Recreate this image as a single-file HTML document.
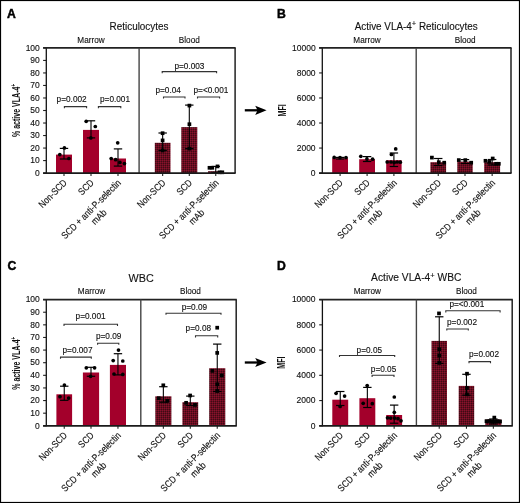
<!DOCTYPE html>
<html><head><meta charset="utf-8"><style>
html,body{margin:0;padding:0;background:#fff;}
body{width:520px;height:503px;overflow:hidden;}
svg{display:block;will-change:transform;font-family:"Liberation Sans", sans-serif;}
text{stroke:#111;stroke-width:0.12px;}
text.L{stroke:#000;stroke-width:0.45px;}
text.Y{stroke:none;}
</style></head><body>
<svg width="520" height="503" viewBox="0 0 520 503">
<defs>
<pattern id="hatch" width="2" height="2" patternUnits="userSpaceOnUse">
<rect width="2" height="2" fill="#660e20"/>
<rect width="1" height="1" fill="#88122c"/>
<rect x="1" y="1" width="1" height="1" fill="#3e0a14"/>
</pattern>
</defs>
<rect x="0" y="0" width="520" height="503" fill="#fff"/>
<rect x="0.5" y="0.5" width="519" height="502" fill="none" stroke="#000" stroke-width="1.2"/>
<text transform="translate(7.0 17.9) scale(1 1)" font-size="12.2" text-anchor="start" font-weight="bold" fill="#000" class="L">A</text>
<g transform="translate(139 29.7) scale(1 1.02)"><text x="0" y="0" font-size="9.9" text-anchor="middle" fill="#111">Reticulocytes</text></g>
<text transform="translate(91 42.6) scale(1 1.14)" font-size="8.2" text-anchor="middle" font-weight="normal" fill="#111" >Marrow</text>
<text transform="translate(189.3 42.6) scale(1 1.14)" font-size="8.2" text-anchor="middle" font-weight="normal" fill="#111" >Blood</text>
<line x1="43.099999999999994" y1="173.1" x2="46.3" y2="173.1" stroke="#222" stroke-width="1.1"/>
<text transform="translate(39.8 175.85) scale(1 1.1)" font-size="8.5" text-anchor="end" font-weight="normal" fill="#111" >0</text>
<line x1="43.099999999999994" y1="160.57999999999998" x2="46.3" y2="160.57999999999998" stroke="#222" stroke-width="1.1"/>
<text transform="translate(39.8 163.32999999999998) scale(1 1.1)" font-size="8.5" text-anchor="end" font-weight="normal" fill="#111" >10</text>
<line x1="43.099999999999994" y1="148.06" x2="46.3" y2="148.06" stroke="#222" stroke-width="1.1"/>
<text transform="translate(39.8 150.81) scale(1 1.1)" font-size="8.5" text-anchor="end" font-weight="normal" fill="#111" >20</text>
<line x1="43.099999999999994" y1="135.54" x2="46.3" y2="135.54" stroke="#222" stroke-width="1.1"/>
<text transform="translate(39.8 138.29) scale(1 1.1)" font-size="8.5" text-anchor="end" font-weight="normal" fill="#111" >30</text>
<line x1="43.099999999999994" y1="123.02" x2="46.3" y2="123.02" stroke="#222" stroke-width="1.1"/>
<text transform="translate(39.8 125.77) scale(1 1.1)" font-size="8.5" text-anchor="end" font-weight="normal" fill="#111" >40</text>
<line x1="43.099999999999994" y1="110.5" x2="46.3" y2="110.5" stroke="#222" stroke-width="1.1"/>
<text transform="translate(39.8 113.25) scale(1 1.1)" font-size="8.5" text-anchor="end" font-weight="normal" fill="#111" >50</text>
<line x1="43.099999999999994" y1="97.98" x2="46.3" y2="97.98" stroke="#222" stroke-width="1.1"/>
<text transform="translate(39.8 100.73) scale(1 1.1)" font-size="8.5" text-anchor="end" font-weight="normal" fill="#111" >60</text>
<line x1="43.099999999999994" y1="85.46000000000001" x2="46.3" y2="85.46000000000001" stroke="#222" stroke-width="1.1"/>
<text transform="translate(39.8 88.21000000000001) scale(1 1.1)" font-size="8.5" text-anchor="end" font-weight="normal" fill="#111" >70</text>
<line x1="43.099999999999994" y1="72.94" x2="46.3" y2="72.94" stroke="#222" stroke-width="1.1"/>
<text transform="translate(39.8 75.69) scale(1 1.1)" font-size="8.5" text-anchor="end" font-weight="normal" fill="#111" >80</text>
<line x1="43.099999999999994" y1="60.42" x2="46.3" y2="60.42" stroke="#222" stroke-width="1.1"/>
<text transform="translate(39.8 63.17) scale(1 1.1)" font-size="8.5" text-anchor="end" font-weight="normal" fill="#111" >90</text>
<line x1="43.099999999999994" y1="47.89999999999999" x2="46.3" y2="47.89999999999999" stroke="#222" stroke-width="1.1"/>
<text transform="translate(39.8 50.64999999999999) scale(1 1.1)" font-size="8.5" text-anchor="end" font-weight="normal" fill="#111" >100</text>
<rect x="56" y="154.6" width="16" height="18.5" fill="#a3002b"/>
<rect x="83" y="129.9" width="16" height="43.19999999999999" fill="#a3002b"/>
<rect x="110" y="158.5" width="16" height="14.599999999999994" fill="#a3002b"/>
<rect x="154.8" y="142.8" width="15.699999999999989" height="30.299999999999983" fill="url(#hatch)"/>
<rect x="181.3" y="127.1" width="16.0" height="46.0" fill="url(#hatch)"/>
<rect x="208" y="171.2" width="15.5" height="1.9000000000000057" fill="url(#hatch)"/>
<line x1="64.0" y1="148.4" x2="64.0" y2="159" stroke="#000" stroke-width="1.1"/>
<line x1="59.8" y1="148.4" x2="68.2" y2="148.4" stroke="#000" stroke-width="1.2"/>
<line x1="59.8" y1="159" x2="68.2" y2="159" stroke="#000" stroke-width="1.2"/>
<circle cx="59.8" cy="154.6" r="1.85" fill="#000"/>
<circle cx="64.4" cy="147.9" r="1.85" fill="#000"/>
<circle cx="68.9" cy="158.5" r="1.85" fill="#000"/>
<line x1="64.0" y1="173.1" x2="64.0" y2="176.1" stroke="#222" stroke-width="1.1"/>
<line x1="91.0" y1="120.8" x2="91.0" y2="137.9" stroke="#000" stroke-width="1.1"/>
<line x1="86.8" y1="120.8" x2="95.2" y2="120.8" stroke="#000" stroke-width="1.2"/>
<line x1="86.8" y1="137.9" x2="95.2" y2="137.9" stroke="#000" stroke-width="1.2"/>
<circle cx="86.2" cy="121.3" r="1.85" fill="#000"/>
<circle cx="95.3" cy="126.5" r="1.85" fill="#000"/>
<circle cx="90.8" cy="137.9" r="1.85" fill="#000"/>
<line x1="91.0" y1="173.1" x2="91.0" y2="176.1" stroke="#222" stroke-width="1.1"/>
<line x1="118.0" y1="148.9" x2="118.0" y2="166.1" stroke="#000" stroke-width="1.1"/>
<line x1="113.8" y1="148.9" x2="122.2" y2="148.9" stroke="#000" stroke-width="1.2"/>
<line x1="113.8" y1="166.1" x2="122.2" y2="166.1" stroke="#000" stroke-width="1.2"/>
<circle cx="117.7" cy="142.8" r="1.85" fill="#000"/>
<circle cx="111.2" cy="158.5" r="1.85" fill="#000"/>
<circle cx="115.6" cy="159.7" r="1.85" fill="#000"/>
<circle cx="119.9" cy="162.4" r="1.85" fill="#000"/>
<circle cx="124.4" cy="163.6" r="1.85" fill="#000"/>
<line x1="118.0" y1="173.1" x2="118.0" y2="176.1" stroke="#222" stroke-width="1.1"/>
<line x1="162.65" y1="133" x2="162.65" y2="150.5" stroke="#000" stroke-width="1.1"/>
<line x1="158.45000000000002" y1="133" x2="166.85" y2="133" stroke="#000" stroke-width="1.2"/>
<line x1="158.45000000000002" y1="150.5" x2="166.85" y2="150.5" stroke="#000" stroke-width="1.2"/>
<rect x="160.75" y="131.35" width="3.7" height="3.7" fill="#000"/>
<rect x="160.75" y="138.55" width="3.7" height="3.7" fill="#000"/>
<rect x="160.75" y="148.65" width="3.7" height="3.7" fill="#000"/>
<line x1="162.65" y1="173.1" x2="162.65" y2="176.1" stroke="#222" stroke-width="1.1"/>
<line x1="189.3" y1="105.1" x2="189.3" y2="148.6" stroke="#000" stroke-width="1.1"/>
<line x1="185.10000000000002" y1="105.1" x2="193.5" y2="105.1" stroke="#000" stroke-width="1.2"/>
<line x1="185.10000000000002" y1="148.6" x2="193.5" y2="148.6" stroke="#000" stroke-width="1.2"/>
<rect x="187.55" y="103.75" width="3.7" height="3.7" fill="#000"/>
<rect x="187.55" y="122.35" width="3.7" height="3.7" fill="#000"/>
<rect x="187.55" y="146.75" width="3.7" height="3.7" fill="#000"/>
<line x1="189.3" y1="173.1" x2="189.3" y2="176.1" stroke="#222" stroke-width="1.1"/>
<line x1="215.75" y1="166.4" x2="215.75" y2="172.5" stroke="#000" stroke-width="1.1"/>
<line x1="211.55" y1="166.4" x2="219.95" y2="166.4" stroke="#000" stroke-width="1.2"/>
<line x1="211.55" y1="172.5" x2="219.95" y2="172.5" stroke="#000" stroke-width="1.2"/>
<rect x="207.65" y="165.95" width="3.7" height="3.7" fill="#000"/>
<rect x="210.45" y="165.95" width="3.7" height="3.7" fill="#000"/>
<rect x="215.65" y="164.55" width="3.7" height="3.7" fill="#000"/>
<rect x="217.65" y="170.45" width="3.7" height="3.7" fill="#000"/>
<rect x="220.45" y="170.45" width="3.7" height="3.7" fill="#000"/>
<line x1="215.75" y1="173.1" x2="215.75" y2="176.1" stroke="#222" stroke-width="1.1"/>
<line x1="46.3" y1="47.9" x2="46.3" y2="173.6" stroke="#111" stroke-width="1.3"/>
<line x1="43.099999999999994" y1="47.9" x2="235.7" y2="47.9" stroke="#222" stroke-width="1.6"/>
<line x1="235.1" y1="47.9" x2="235.1" y2="173.1" stroke="#222" stroke-width="1.5"/>
<line x1="139.1" y1="47.9" x2="139.1" y2="173.1" stroke="#444" stroke-width="1.4"/>
<line x1="43.099999999999994" y1="173.1" x2="235.7" y2="173.1" stroke="#1a1a1a" stroke-width="1.7"/>
<path d="M64.4 108.19999999999999 L64.4 106.6 L86.6 106.6 L86.6 108.19999999999999" fill="none" stroke="#333" stroke-width="1.1"/>
<text transform="translate(56.6 101.7) scale(1 1.13)" font-size="8.25" text-anchor="start" font-weight="normal" fill="#111" >p=0.002</text>
<path d="M98.4 108.19999999999999 L98.4 106.6 L120.8 106.6 L120.8 108.19999999999999" fill="none" stroke="#333" stroke-width="1.1"/>
<text transform="translate(100.0 101.7) scale(1 1.13)" font-size="8.25" text-anchor="start" font-weight="normal" fill="#111" >p=0.001</text>
<path d="M162.2 73.19999999999999 L162.2 71.6 L216.6 71.6 L216.6 73.19999999999999" fill="none" stroke="#333" stroke-width="1.1"/>
<text transform="translate(189.4 69.0) scale(1 1.13)" font-size="8.25" text-anchor="middle" font-weight="normal" fill="#111" >p=0.003</text>
<path d="M163.5 98.6 L163.5 97 L185.0 97 L185.0 98.6" fill="none" stroke="#333" stroke-width="1.1"/>
<text transform="translate(155.4 93.3) scale(1 1.13)" font-size="8.25" text-anchor="start" font-weight="normal" fill="#111" >p=0.04</text>
<path d="M197.5 98.6 L197.5 97 L219.6 97 L219.6 98.6" fill="none" stroke="#333" stroke-width="1.1"/>
<text transform="translate(193.5 93.3) scale(1 1.13)" font-size="8.25" text-anchor="start" font-weight="normal" fill="#111" >p=&lt;0.001</text>
<g transform="translate(67.5,183.4) rotate(-45) scale(1 1.17)"><text x="0" y="0" font-size="8.3" text-anchor="end" fill="#111">Non-SCD</text></g>
<g transform="translate(94.5,183.4) rotate(-45) scale(1 1.17)"><text x="0" y="0" font-size="8.3" text-anchor="end" fill="#111">SCD</text></g>
<g transform="translate(121.5,183.4) rotate(-45) scale(1 1.17)"><text x="0" y="0" font-size="8.3" text-anchor="end" fill="#111">SCD + anti-P-selectin</text><text x="-39.78" y="9.4" font-size="8.3" text-anchor="middle" fill="#111">mAb</text></g>
<g transform="translate(166.15,183.4) rotate(-45) scale(1 1.17)"><text x="0" y="0" font-size="8.3" text-anchor="end" fill="#111">Non-SCD</text></g>
<g transform="translate(192.8,183.4) rotate(-45) scale(1 1.17)"><text x="0" y="0" font-size="8.3" text-anchor="end" fill="#111">SCD</text></g>
<g transform="translate(219.25,183.4) rotate(-45) scale(1 1.17)"><text x="0" y="0" font-size="8.3" text-anchor="end" fill="#111">SCD + anti-P-selectin</text><text x="-39.78" y="9.4" font-size="8.3" text-anchor="middle" fill="#111">mAb</text></g>
<g transform="translate(20.0,110.5) rotate(-90) scale(0.69,1)"><text class="Y" x="0" y="0" font-size="10.2" text-anchor="middle" fill="#111" font-weight="bold">% active VLA-4<tspan font-size="6.5" dy="-4.2">+</tspan></text></g>
<text transform="translate(277.0 18.0) scale(1 1)" font-size="12.2" text-anchor="start" font-weight="bold" fill="#000" class="L">B</text>
<g transform="translate(416.2 29.7) scale(1 1.02)"><text x="0" y="0" font-size="9.9" text-anchor="middle" fill="#111">Active VLA-4<tspan font-size="7.6" dy="-3.7">+</tspan><tspan dy="3.7"> Reticulocytes</tspan></text></g>
<text transform="translate(367 42.5) scale(1 1.14)" font-size="8.2" text-anchor="middle" font-weight="normal" fill="#111" >Marrow</text>
<text transform="translate(465.2 42.5) scale(1 1.14)" font-size="8.2" text-anchor="middle" font-weight="normal" fill="#111" >Blood</text>
<line x1="319.1" y1="173.1" x2="322.3" y2="173.1" stroke="#222" stroke-width="1.1"/>
<text transform="translate(315.6 175.85) scale(1 1.1)" font-size="8.5" text-anchor="end" font-weight="normal" fill="#111" >0</text>
<line x1="319.1" y1="148.06" x2="322.3" y2="148.06" stroke="#222" stroke-width="1.1"/>
<text transform="translate(315.6 150.81) scale(1 1.1)" font-size="8.5" text-anchor="end" font-weight="normal" fill="#111" >2000</text>
<line x1="319.1" y1="123.02" x2="322.3" y2="123.02" stroke="#222" stroke-width="1.1"/>
<text transform="translate(315.6 125.77) scale(1 1.1)" font-size="8.5" text-anchor="end" font-weight="normal" fill="#111" >4000</text>
<line x1="319.1" y1="97.98" x2="322.3" y2="97.98" stroke="#222" stroke-width="1.1"/>
<text transform="translate(315.6 100.73) scale(1 1.1)" font-size="8.5" text-anchor="end" font-weight="normal" fill="#111" >6000</text>
<line x1="319.1" y1="72.94" x2="322.3" y2="72.94" stroke="#222" stroke-width="1.1"/>
<text transform="translate(315.6 75.69) scale(1 1.1)" font-size="8.5" text-anchor="end" font-weight="normal" fill="#111" >8000</text>
<line x1="319.1" y1="47.89999999999999" x2="322.3" y2="47.89999999999999" stroke="#222" stroke-width="1.1"/>
<text transform="translate(315.6 50.64999999999999) scale(1 1.1)" font-size="8.5" text-anchor="end" font-weight="normal" fill="#111" >10000</text>
<rect x="332.2" y="158.2" width="15.800000000000011" height="14.900000000000006" fill="#a3002b"/>
<rect x="359.2" y="159.2" width="15.800000000000011" height="13.900000000000006" fill="#a3002b"/>
<rect x="386.2" y="160.2" width="15.400000000000034" height="12.900000000000006" fill="#a3002b"/>
<rect x="430.4" y="162.2" width="15.700000000000045" height="10.900000000000006" fill="url(#hatch)"/>
<rect x="457.3" y="161.6" width="15.399999999999977" height="11.5" fill="url(#hatch)"/>
<rect x="484.2" y="162.2" width="15.900000000000034" height="10.900000000000006" fill="url(#hatch)"/>
<line x1="340.1" y1="157.4" x2="340.1" y2="159" stroke="#000" stroke-width="1.1"/>
<line x1="335.90000000000003" y1="157.4" x2="344.3" y2="157.4" stroke="#000" stroke-width="1.2"/>
<line x1="335.90000000000003" y1="159" x2="344.3" y2="159" stroke="#000" stroke-width="1.2"/>
<circle cx="334.2" cy="157.4" r="1.85" fill="#000"/>
<circle cx="340" cy="157.6" r="1.85" fill="#000"/>
<circle cx="346" cy="157.6" r="1.85" fill="#000"/>
<line x1="340.1" y1="173.1" x2="340.1" y2="176.1" stroke="#222" stroke-width="1.1"/>
<line x1="367.1" y1="156.6" x2="367.1" y2="161.5" stroke="#000" stroke-width="1.1"/>
<line x1="362.90000000000003" y1="156.6" x2="371.3" y2="156.6" stroke="#000" stroke-width="1.2"/>
<line x1="362.90000000000003" y1="161.5" x2="371.3" y2="161.5" stroke="#000" stroke-width="1.2"/>
<circle cx="360.8" cy="156.3" r="1.85" fill="#000"/>
<circle cx="366.9" cy="158.9" r="1.85" fill="#000"/>
<circle cx="372.6" cy="159.2" r="1.85" fill="#000"/>
<line x1="367.1" y1="173.1" x2="367.1" y2="176.1" stroke="#222" stroke-width="1.1"/>
<line x1="393.9" y1="153" x2="393.9" y2="166.5" stroke="#000" stroke-width="1.1"/>
<line x1="389.7" y1="153" x2="398.09999999999997" y2="153" stroke="#000" stroke-width="1.2"/>
<line x1="389.7" y1="166.5" x2="398.09999999999997" y2="166.5" stroke="#000" stroke-width="1.2"/>
<circle cx="395.7" cy="148.9" r="1.85" fill="#000"/>
<circle cx="391.4" cy="154.5" r="1.85" fill="#000"/>
<circle cx="387.2" cy="162" r="1.85" fill="#000"/>
<circle cx="391" cy="162" r="1.85" fill="#000"/>
<circle cx="394.2" cy="162.5" r="1.85" fill="#000"/>
<circle cx="397.2" cy="162" r="1.85" fill="#000"/>
<circle cx="400.3" cy="162.2" r="1.85" fill="#000"/>
<line x1="393.9" y1="173.1" x2="393.9" y2="176.1" stroke="#222" stroke-width="1.1"/>
<line x1="438.25" y1="158.5" x2="438.25" y2="165.5" stroke="#000" stroke-width="1.1"/>
<line x1="434.05" y1="158.5" x2="442.45" y2="158.5" stroke="#000" stroke-width="1.2"/>
<line x1="434.05" y1="165.5" x2="442.45" y2="165.5" stroke="#000" stroke-width="1.2"/>
<rect x="430.05" y="155.75" width="3.7" height="3.7" fill="#000"/>
<rect x="436.95" y="160.35" width="3.7" height="3.7" fill="#000"/>
<rect x="442.35" y="160.85" width="3.7" height="3.7" fill="#000"/>
<line x1="438.25" y1="173.1" x2="438.25" y2="176.1" stroke="#222" stroke-width="1.1"/>
<line x1="465.0" y1="159.6" x2="465.0" y2="163.5" stroke="#000" stroke-width="1.1"/>
<line x1="460.8" y1="159.6" x2="469.2" y2="159.6" stroke="#000" stroke-width="1.2"/>
<line x1="460.8" y1="163.5" x2="469.2" y2="163.5" stroke="#000" stroke-width="1.2"/>
<rect x="456.95" y="158.25" width="3.7" height="3.7" fill="#000"/>
<rect x="463.45" y="158.25" width="3.7" height="3.7" fill="#000"/>
<rect x="469.35" y="160.85" width="3.7" height="3.7" fill="#000"/>
<line x1="465.0" y1="173.1" x2="465.0" y2="176.1" stroke="#222" stroke-width="1.1"/>
<line x1="492.15" y1="159.5" x2="492.15" y2="165" stroke="#000" stroke-width="1.1"/>
<line x1="487.95" y1="159.5" x2="496.34999999999997" y2="159.5" stroke="#000" stroke-width="1.2"/>
<line x1="487.95" y1="165" x2="496.34999999999997" y2="165" stroke="#000" stroke-width="1.2"/>
<rect x="483.65" y="158.95" width="3.7" height="3.7" fill="#000"/>
<rect x="490.85" y="156.65" width="3.7" height="3.7" fill="#000"/>
<rect x="487.45" y="160.05" width="3.7" height="3.7" fill="#000"/>
<rect x="494.25" y="161.95" width="3.7" height="3.7" fill="#000"/>
<rect x="496.95" y="161.95" width="3.7" height="3.7" fill="#000"/>
<line x1="492.15" y1="173.1" x2="492.15" y2="176.1" stroke="#222" stroke-width="1.1"/>
<line x1="322.3" y1="47.9" x2="322.3" y2="173.6" stroke="#111" stroke-width="1.3"/>
<line x1="319.1" y1="47.9" x2="511.6" y2="47.9" stroke="#222" stroke-width="1.6"/>
<line x1="511" y1="47.9" x2="511" y2="173.1" stroke="#222" stroke-width="1.5"/>
<line x1="416.2" y1="47.9" x2="416.2" y2="173.1" stroke="#444" stroke-width="1.4"/>
<line x1="319.1" y1="173.1" x2="511.6" y2="173.1" stroke="#1a1a1a" stroke-width="1.7"/>
<g transform="translate(343.6,183.4) rotate(-45) scale(1 1.17)"><text x="0" y="0" font-size="8.3" text-anchor="end" fill="#111">Non-SCD</text></g>
<g transform="translate(370.6,183.4) rotate(-45) scale(1 1.17)"><text x="0" y="0" font-size="8.3" text-anchor="end" fill="#111">SCD</text></g>
<g transform="translate(397.4,183.4) rotate(-45) scale(1 1.17)"><text x="0" y="0" font-size="8.3" text-anchor="end" fill="#111">SCD + anti-P-selectin</text><text x="-39.78" y="9.4" font-size="8.3" text-anchor="middle" fill="#111">mAb</text></g>
<g transform="translate(441.75,183.4) rotate(-45) scale(1 1.17)"><text x="0" y="0" font-size="8.3" text-anchor="end" fill="#111">Non-SCD</text></g>
<g transform="translate(468.5,183.4) rotate(-45) scale(1 1.17)"><text x="0" y="0" font-size="8.3" text-anchor="end" fill="#111">SCD</text></g>
<g transform="translate(495.65,183.4) rotate(-45) scale(1 1.17)"><text x="0" y="0" font-size="8.3" text-anchor="end" fill="#111">SCD + anti-P-selectin</text><text x="-39.78" y="9.4" font-size="8.3" text-anchor="middle" fill="#111">mAb</text></g>
<g transform="translate(285.7,110.4) rotate(-90) scale(0.69,1)"><text class="Y" x="0" y="0" font-size="10.2" text-anchor="middle" fill="#111" font-weight="bold">MFI</text></g>
<text transform="translate(7.4 269.8) scale(1 1)" font-size="12.2" text-anchor="start" font-weight="bold" fill="#000" class="L">C</text>
<g transform="translate(141.1 281.6) scale(1 1.02)"><text x="0" y="0" font-size="10.8" transform="scale(1 0.93)" text-anchor="middle" fill="#111">WBC</text></g>
<text transform="translate(91.5 294.2) scale(1 1.14)" font-size="8.2" text-anchor="middle" font-weight="normal" fill="#111" >Marrow</text>
<text transform="translate(190.4 294.2) scale(1 1.14)" font-size="8.2" text-anchor="middle" font-weight="normal" fill="#111" >Blood</text>
<line x1="43.099999999999994" y1="425.8" x2="46.3" y2="425.8" stroke="#222" stroke-width="1.1"/>
<text transform="translate(39.8 428.55) scale(1 1.1)" font-size="8.5" text-anchor="end" font-weight="normal" fill="#111" >0</text>
<line x1="43.099999999999994" y1="413.18" x2="46.3" y2="413.18" stroke="#222" stroke-width="1.1"/>
<text transform="translate(39.8 415.93) scale(1 1.1)" font-size="8.5" text-anchor="end" font-weight="normal" fill="#111" >10</text>
<line x1="43.099999999999994" y1="400.56" x2="46.3" y2="400.56" stroke="#222" stroke-width="1.1"/>
<text transform="translate(39.8 403.31) scale(1 1.1)" font-size="8.5" text-anchor="end" font-weight="normal" fill="#111" >20</text>
<line x1="43.099999999999994" y1="387.94" x2="46.3" y2="387.94" stroke="#222" stroke-width="1.1"/>
<text transform="translate(39.8 390.69) scale(1 1.1)" font-size="8.5" text-anchor="end" font-weight="normal" fill="#111" >30</text>
<line x1="43.099999999999994" y1="375.32" x2="46.3" y2="375.32" stroke="#222" stroke-width="1.1"/>
<text transform="translate(39.8 378.07) scale(1 1.1)" font-size="8.5" text-anchor="end" font-weight="normal" fill="#111" >40</text>
<line x1="43.099999999999994" y1="362.7" x2="46.3" y2="362.7" stroke="#222" stroke-width="1.1"/>
<text transform="translate(39.8 365.45) scale(1 1.1)" font-size="8.5" text-anchor="end" font-weight="normal" fill="#111" >50</text>
<line x1="43.099999999999994" y1="350.08000000000004" x2="46.3" y2="350.08000000000004" stroke="#222" stroke-width="1.1"/>
<text transform="translate(39.8 352.83000000000004) scale(1 1.1)" font-size="8.5" text-anchor="end" font-weight="normal" fill="#111" >60</text>
<line x1="43.099999999999994" y1="337.46000000000004" x2="46.3" y2="337.46000000000004" stroke="#222" stroke-width="1.1"/>
<text transform="translate(39.8 340.21000000000004) scale(1 1.1)" font-size="8.5" text-anchor="end" font-weight="normal" fill="#111" >70</text>
<line x1="43.099999999999994" y1="324.84000000000003" x2="46.3" y2="324.84000000000003" stroke="#222" stroke-width="1.1"/>
<text transform="translate(39.8 327.59000000000003) scale(1 1.1)" font-size="8.5" text-anchor="end" font-weight="normal" fill="#111" >80</text>
<line x1="43.099999999999994" y1="312.22" x2="46.3" y2="312.22" stroke="#222" stroke-width="1.1"/>
<text transform="translate(39.8 314.97) scale(1 1.1)" font-size="8.5" text-anchor="end" font-weight="normal" fill="#111" >90</text>
<line x1="43.099999999999994" y1="299.6" x2="46.3" y2="299.6" stroke="#222" stroke-width="1.1"/>
<text transform="translate(39.8 302.35) scale(1 1.1)" font-size="8.5" text-anchor="end" font-weight="normal" fill="#111" >100</text>
<rect x="56.4" y="394.3" width="15.699999999999996" height="31.5" fill="#a3002b"/>
<rect x="82.9" y="372.5" width="16.19999999999999" height="53.30000000000001" fill="#a3002b"/>
<rect x="109.9" y="364.9" width="16.099999999999994" height="60.900000000000034" fill="#a3002b"/>
<rect x="155.3" y="396.3" width="16.099999999999994" height="29.5" fill="url(#hatch)"/>
<rect x="182.4" y="402.2" width="15.799999999999983" height="23.600000000000023" fill="url(#hatch)"/>
<rect x="209.2" y="368.2" width="16.100000000000023" height="57.60000000000002" fill="url(#hatch)"/>
<line x1="64.25" y1="386.2" x2="64.25" y2="400.3" stroke="#000" stroke-width="1.1"/>
<line x1="60.05" y1="386.2" x2="68.45" y2="386.2" stroke="#000" stroke-width="1.2"/>
<line x1="60.05" y1="400.3" x2="68.45" y2="400.3" stroke="#000" stroke-width="1.2"/>
<circle cx="64.4" cy="385" r="1.85" fill="#000"/>
<circle cx="60" cy="396.7" r="1.85" fill="#000"/>
<circle cx="68.7" cy="398.1" r="1.85" fill="#000"/>
<line x1="64.25" y1="425.8" x2="64.25" y2="428.8" stroke="#222" stroke-width="1.1"/>
<line x1="91.0" y1="367.3" x2="91.0" y2="376.3" stroke="#000" stroke-width="1.1"/>
<line x1="86.8" y1="367.3" x2="95.2" y2="367.3" stroke="#000" stroke-width="1.2"/>
<line x1="86.8" y1="376.3" x2="95.2" y2="376.3" stroke="#000" stroke-width="1.2"/>
<circle cx="86.3" cy="367.8" r="1.85" fill="#000"/>
<circle cx="94.6" cy="367.8" r="1.85" fill="#000"/>
<circle cx="90.6" cy="376.3" r="1.85" fill="#000"/>
<line x1="91.0" y1="425.8" x2="91.0" y2="428.8" stroke="#222" stroke-width="1.1"/>
<line x1="117.95" y1="353.7" x2="117.95" y2="374.9" stroke="#000" stroke-width="1.1"/>
<line x1="113.75" y1="353.7" x2="122.15" y2="353.7" stroke="#000" stroke-width="1.2"/>
<line x1="113.75" y1="374.9" x2="122.15" y2="374.9" stroke="#000" stroke-width="1.2"/>
<circle cx="118.5" cy="350.1" r="1.85" fill="#000"/>
<circle cx="113.2" cy="360.6" r="1.85" fill="#000"/>
<circle cx="122.8" cy="361" r="1.85" fill="#000"/>
<circle cx="114" cy="374" r="1.85" fill="#000"/>
<circle cx="122.8" cy="374.4" r="1.85" fill="#000"/>
<line x1="117.95" y1="425.8" x2="117.95" y2="428.8" stroke="#222" stroke-width="1.1"/>
<line x1="163.35000000000002" y1="386.7" x2="163.35000000000002" y2="402.2" stroke="#000" stroke-width="1.1"/>
<line x1="159.15000000000003" y1="386.7" x2="167.55" y2="386.7" stroke="#000" stroke-width="1.2"/>
<line x1="159.15000000000003" y1="402.2" x2="167.55" y2="402.2" stroke="#000" stroke-width="1.2"/>
<rect x="161.45" y="383.45" width="3.7" height="3.7" fill="#000"/>
<rect x="156.95" y="396.35" width="3.7" height="3.7" fill="#000"/>
<rect x="165.45" y="399.05" width="3.7" height="3.7" fill="#000"/>
<line x1="163.35000000000002" y1="425.8" x2="163.35000000000002" y2="428.8" stroke="#222" stroke-width="1.1"/>
<line x1="190.3" y1="396.1" x2="190.3" y2="405.5" stroke="#000" stroke-width="1.1"/>
<line x1="186.10000000000002" y1="396.1" x2="194.5" y2="396.1" stroke="#000" stroke-width="1.2"/>
<line x1="186.10000000000002" y1="405.5" x2="194.5" y2="405.5" stroke="#000" stroke-width="1.2"/>
<rect x="188.25" y="393.65" width="3.7" height="3.7" fill="#000"/>
<rect x="184.25" y="400.95" width="3.7" height="3.7" fill="#000"/>
<rect x="193.15" y="403.05" width="3.7" height="3.7" fill="#000"/>
<line x1="190.3" y1="425.8" x2="190.3" y2="428.8" stroke="#222" stroke-width="1.1"/>
<line x1="217.25" y1="344.1" x2="217.25" y2="391.5" stroke="#000" stroke-width="1.1"/>
<line x1="213.05" y1="344.1" x2="221.45" y2="344.1" stroke="#000" stroke-width="1.2"/>
<line x1="213.05" y1="391.5" x2="221.45" y2="391.5" stroke="#000" stroke-width="1.2"/>
<rect x="215.35" y="325.85" width="3.7" height="3.7" fill="#000"/>
<rect x="215.35" y="351.05" width="3.7" height="3.7" fill="#000"/>
<rect x="210.55" y="369.05" width="3.7" height="3.7" fill="#000"/>
<rect x="219.95" y="373.55" width="3.7" height="3.7" fill="#000"/>
<rect x="215.35" y="382.45" width="3.7" height="3.7" fill="#000"/>
<rect x="215.35" y="389.15" width="3.7" height="3.7" fill="#000"/>
<line x1="217.25" y1="425.8" x2="217.25" y2="428.8" stroke="#222" stroke-width="1.1"/>
<line x1="46.3" y1="299.6" x2="46.3" y2="426.3" stroke="#111" stroke-width="1.3"/>
<line x1="43.099999999999994" y1="299.6" x2="236.79999999999998" y2="299.6" stroke="#222" stroke-width="1.6"/>
<line x1="236.2" y1="299.6" x2="236.2" y2="425.8" stroke="#222" stroke-width="1.5"/>
<line x1="140.8" y1="299.6" x2="140.8" y2="425.8" stroke="#444" stroke-width="1.4"/>
<line x1="43.099999999999994" y1="425.8" x2="236.79999999999998" y2="425.8" stroke="#1a1a1a" stroke-width="1.7"/>
<path d="M64.0 325.90000000000003 L64.0 324.3 L117.5 324.3 L117.5 325.90000000000003" fill="none" stroke="#333" stroke-width="1.1"/>
<text transform="translate(90.6 319.4) scale(1 1.13)" font-size="8.25" text-anchor="middle" font-weight="normal" fill="#111" >p=0.001</text>
<path d="M97.6 344.8 L97.6 343.2 L118.8 343.2 L118.8 344.8" fill="none" stroke="#333" stroke-width="1.1"/>
<text transform="translate(95.9 339.0) scale(1 1.13)" font-size="8.25" text-anchor="start" font-weight="normal" fill="#111" >p=0.09</text>
<path d="M60.5 358.70000000000005 L60.5 357.1 L91.3 357.1 L91.3 358.70000000000005" fill="none" stroke="#333" stroke-width="1.1"/>
<text transform="translate(62.5 353.3) scale(1 1.13)" font-size="8.25" text-anchor="start" font-weight="normal" fill="#111" >p=0.007</text>
<path d="M166 314.8 L166 313.2 L221 313.2 L221 314.8" fill="none" stroke="#333" stroke-width="1.1"/>
<text transform="translate(194.4 309.5) scale(1 1.13)" font-size="8.25" text-anchor="middle" font-weight="normal" fill="#111" >p=0.09</text>
<path d="M195.5 337.40000000000003 L195.5 335.8 L217.7 335.8 L217.7 337.40000000000003" fill="none" stroke="#333" stroke-width="1.1"/>
<text transform="translate(185.6 330.7) scale(1 1.13)" font-size="8.25" text-anchor="start" font-weight="normal" fill="#111" >p=0.08</text>
<g transform="translate(67.75,436.1) rotate(-45) scale(1 1.17)"><text x="0" y="0" font-size="8.3" text-anchor="end" fill="#111">Non-SCD</text></g>
<g transform="translate(94.5,436.1) rotate(-45) scale(1 1.17)"><text x="0" y="0" font-size="8.3" text-anchor="end" fill="#111">SCD</text></g>
<g transform="translate(121.45,436.1) rotate(-45) scale(1 1.17)"><text x="0" y="0" font-size="8.3" text-anchor="end" fill="#111">SCD + anti-P-selectin</text><text x="-39.78" y="9.4" font-size="8.3" text-anchor="middle" fill="#111">mAb</text></g>
<g transform="translate(166.85000000000002,436.1) rotate(-45) scale(1 1.17)"><text x="0" y="0" font-size="8.3" text-anchor="end" fill="#111">Non-SCD</text></g>
<g transform="translate(193.8,436.1) rotate(-45) scale(1 1.17)"><text x="0" y="0" font-size="8.3" text-anchor="end" fill="#111">SCD</text></g>
<g transform="translate(220.75,436.1) rotate(-45) scale(1 1.17)"><text x="0" y="0" font-size="8.3" text-anchor="end" fill="#111">SCD + anti-P-selectin</text><text x="-39.78" y="9.4" font-size="8.3" text-anchor="middle" fill="#111">mAb</text></g>
<g transform="translate(19.7,363.3) rotate(-90) scale(0.69,1)"><text class="Y" x="0" y="0" font-size="10.2" text-anchor="middle" fill="#111" font-weight="bold">% active VLA-4<tspan font-size="6.5" dy="-4.2">+</tspan></text></g>
<text transform="translate(276.9 269.8) scale(1 1)" font-size="12.2" text-anchor="start" font-weight="bold" fill="#000" class="L">D</text>
<g transform="translate(416.3 281.4) scale(1 1.02)"><text x="0" y="0" font-size="10.25" text-anchor="middle" fill="#111">Active VLA-4<tspan font-size="7.6" dy="-3.7">+</tspan><tspan dy="3.7"> WBC</tspan></text></g>
<text transform="translate(367.3 294.2) scale(1 1.14)" font-size="8.2" text-anchor="middle" font-weight="normal" fill="#111" >Marrow</text>
<text transform="translate(466.4 294.2) scale(1 1.14)" font-size="8.2" text-anchor="middle" font-weight="normal" fill="#111" >Blood</text>
<line x1="319.2" y1="425.8" x2="322.4" y2="425.8" stroke="#222" stroke-width="1.1"/>
<text transform="translate(315.5 428.55) scale(1 1.1)" font-size="8.5" text-anchor="end" font-weight="normal" fill="#111" >0</text>
<line x1="319.2" y1="400.56" x2="322.4" y2="400.56" stroke="#222" stroke-width="1.1"/>
<text transform="translate(315.5 403.31) scale(1 1.1)" font-size="8.5" text-anchor="end" font-weight="normal" fill="#111" >2000</text>
<line x1="319.2" y1="375.32" x2="322.4" y2="375.32" stroke="#222" stroke-width="1.1"/>
<text transform="translate(315.5 378.07) scale(1 1.1)" font-size="8.5" text-anchor="end" font-weight="normal" fill="#111" >4000</text>
<line x1="319.2" y1="350.08000000000004" x2="322.4" y2="350.08000000000004" stroke="#222" stroke-width="1.1"/>
<text transform="translate(315.5 352.83000000000004) scale(1 1.1)" font-size="8.5" text-anchor="end" font-weight="normal" fill="#111" >6000</text>
<line x1="319.2" y1="324.84000000000003" x2="322.4" y2="324.84000000000003" stroke="#222" stroke-width="1.1"/>
<text transform="translate(315.5 327.59000000000003) scale(1 1.1)" font-size="8.5" text-anchor="end" font-weight="normal" fill="#111" >8000</text>
<line x1="319.2" y1="299.6" x2="322.4" y2="299.6" stroke="#222" stroke-width="1.1"/>
<text transform="translate(315.5 302.35) scale(1 1.1)" font-size="8.5" text-anchor="end" font-weight="normal" fill="#111" >10000</text>
<rect x="332.3" y="399.7" width="15.899999999999977" height="26.100000000000023" fill="#a3002b"/>
<rect x="359.4" y="398.2" width="15.900000000000034" height="27.600000000000023" fill="#a3002b"/>
<rect x="386.2" y="415" width="15.900000000000034" height="10.800000000000011" fill="#a3002b"/>
<rect x="431.5" y="340.9" width="15.5" height="84.90000000000003" fill="url(#hatch)"/>
<rect x="458.7" y="385.9" width="15.5" height="39.900000000000034" fill="url(#hatch)"/>
<rect x="485.3" y="419.5" width="16.099999999999966" height="6.300000000000011" fill="url(#hatch)"/>
<line x1="340.25" y1="391.5" x2="340.25" y2="405.5" stroke="#000" stroke-width="1.1"/>
<line x1="336.05" y1="391.5" x2="344.45" y2="391.5" stroke="#000" stroke-width="1.2"/>
<line x1="336.05" y1="405.5" x2="344.45" y2="405.5" stroke="#000" stroke-width="1.2"/>
<circle cx="336.1" cy="393.3" r="1.85" fill="#000"/>
<circle cx="344.6" cy="396.1" r="1.85" fill="#000"/>
<circle cx="340.1" cy="406.5" r="1.85" fill="#000"/>
<line x1="340.25" y1="425.8" x2="340.25" y2="428.8" stroke="#222" stroke-width="1.1"/>
<line x1="367.35" y1="387.4" x2="367.35" y2="407.5" stroke="#000" stroke-width="1.1"/>
<line x1="363.15000000000003" y1="387.4" x2="371.55" y2="387.4" stroke="#000" stroke-width="1.2"/>
<line x1="363.15000000000003" y1="407.5" x2="371.55" y2="407.5" stroke="#000" stroke-width="1.2"/>
<circle cx="367.2" cy="385.6" r="1.85" fill="#000"/>
<circle cx="363.2" cy="403.3" r="1.85" fill="#000"/>
<circle cx="372.3" cy="403.7" r="1.85" fill="#000"/>
<line x1="367.35" y1="425.8" x2="367.35" y2="428.8" stroke="#222" stroke-width="1.1"/>
<line x1="394.15" y1="405.1" x2="394.15" y2="423.2" stroke="#000" stroke-width="1.1"/>
<line x1="389.95" y1="405.1" x2="398.34999999999997" y2="405.1" stroke="#000" stroke-width="1.2"/>
<line x1="389.95" y1="423.2" x2="398.34999999999997" y2="423.2" stroke="#000" stroke-width="1.2"/>
<circle cx="394.3" cy="397" r="1.85" fill="#000"/>
<circle cx="394.3" cy="412.3" r="1.85" fill="#000"/>
<circle cx="387.5" cy="417.8" r="1.85" fill="#000"/>
<circle cx="390.7" cy="418.1" r="1.85" fill="#000"/>
<circle cx="394.7" cy="418.1" r="1.85" fill="#000"/>
<circle cx="398" cy="418.7" r="1.85" fill="#000"/>
<circle cx="401" cy="420.8" r="1.85" fill="#000"/>
<line x1="394.15" y1="425.8" x2="394.15" y2="428.8" stroke="#222" stroke-width="1.1"/>
<line x1="439.25" y1="316.8" x2="439.25" y2="363.4" stroke="#000" stroke-width="1.1"/>
<line x1="435.05" y1="316.8" x2="443.45" y2="316.8" stroke="#000" stroke-width="1.2"/>
<line x1="435.05" y1="363.4" x2="443.45" y2="363.4" stroke="#000" stroke-width="1.2"/>
<rect x="437.15" y="311.55" width="3.7" height="3.7" fill="#000"/>
<rect x="437.45" y="347.35" width="3.7" height="3.7" fill="#000"/>
<rect x="437.45" y="353.75" width="3.7" height="3.7" fill="#000"/>
<rect x="437.45" y="361.05" width="3.7" height="3.7" fill="#000"/>
<line x1="439.25" y1="425.8" x2="439.25" y2="428.8" stroke="#222" stroke-width="1.1"/>
<line x1="466.45" y1="374.3" x2="466.45" y2="395.2" stroke="#000" stroke-width="1.1"/>
<line x1="462.25" y1="374.3" x2="470.65" y2="374.3" stroke="#000" stroke-width="1.2"/>
<line x1="462.25" y1="395.2" x2="470.65" y2="395.2" stroke="#000" stroke-width="1.2"/>
<rect x="465.15" y="371.85" width="3.7" height="3.7" fill="#000"/>
<rect x="465.15" y="386.15" width="3.7" height="3.7" fill="#000"/>
<rect x="465.15" y="392.55" width="3.7" height="3.7" fill="#000"/>
<line x1="466.45" y1="425.8" x2="466.45" y2="428.8" stroke="#222" stroke-width="1.1"/>
<line x1="493.35" y1="419" x2="493.35" y2="424" stroke="#000" stroke-width="1.1"/>
<line x1="489.15000000000003" y1="419" x2="497.55" y2="419" stroke="#000" stroke-width="1.2"/>
<line x1="489.15000000000003" y1="424" x2="497.55" y2="424" stroke="#000" stroke-width="1.2"/>
<rect x="484.65" y="419.35" width="3.7" height="3.7" fill="#000"/>
<rect x="487.65" y="419.15" width="3.7" height="3.7" fill="#000"/>
<rect x="490.15" y="419.65" width="3.7" height="3.7" fill="#000"/>
<rect x="492.45" y="415.75" width="3.7" height="3.7" fill="#000"/>
<rect x="492.65" y="419.65" width="3.7" height="3.7" fill="#000"/>
<rect x="495.65" y="419.35" width="3.7" height="3.7" fill="#000"/>
<rect x="498.15" y="419.65" width="3.7" height="3.7" fill="#000"/>
<line x1="493.35" y1="425.8" x2="493.35" y2="428.8" stroke="#222" stroke-width="1.1"/>
<line x1="322.4" y1="299.6" x2="322.4" y2="426.3" stroke="#111" stroke-width="1.3"/>
<line x1="319.2" y1="299.6" x2="512.8000000000001" y2="299.6" stroke="#222" stroke-width="1.6"/>
<line x1="512.2" y1="299.6" x2="512.2" y2="425.8" stroke="#222" stroke-width="1.5"/>
<line x1="416.4" y1="299.6" x2="416.4" y2="425.8" stroke="#444" stroke-width="1.4"/>
<line x1="319.2" y1="425.8" x2="512.8000000000001" y2="425.8" stroke="#1a1a1a" stroke-width="1.7"/>
<path d="M339.5 357.1 L339.5 355.5 L394.7 355.5 L394.7 357.1" fill="none" stroke="#333" stroke-width="1.1"/>
<text transform="translate(356.6 352.6) scale(1 1.13)" font-size="8.25" text-anchor="start" font-weight="normal" fill="#111" >p=0.05</text>
<path d="M372.1 376.90000000000003 L372.1 375.3 L394 375.3 L394 376.90000000000003" fill="none" stroke="#333" stroke-width="1.1"/>
<text transform="translate(370.8 371.6) scale(1 1.13)" font-size="8.25" text-anchor="start" font-weight="normal" fill="#111" >p=0.05</text>
<path d="M445.8 312.40000000000003 L445.8 310.8 L500.1 310.8 L500.1 312.40000000000003" fill="none" stroke="#333" stroke-width="1.1"/>
<text transform="translate(449.4 306.7) scale(1 1.13)" font-size="8.25" text-anchor="start" font-weight="normal" fill="#111" >p=&lt;0.001</text>
<path d="M446.8 330.6 L446.8 329 L468.3 329 L468.3 330.6" fill="none" stroke="#333" stroke-width="1.1"/>
<text transform="translate(447 324.6) scale(1 1.13)" font-size="8.25" text-anchor="start" font-weight="normal" fill="#111" >p=0.002</text>
<path d="M469 363.20000000000005 L469 361.6 L490.5 361.6 L490.5 363.20000000000005" fill="none" stroke="#333" stroke-width="1.1"/>
<text transform="translate(469 357.4) scale(1 1.13)" font-size="8.25" text-anchor="start" font-weight="normal" fill="#111" >p=0.002</text>
<g transform="translate(343.75,436.1) rotate(-45) scale(1 1.17)"><text x="0" y="0" font-size="8.3" text-anchor="end" fill="#111">Non-SCD</text></g>
<g transform="translate(370.85,436.1) rotate(-45) scale(1 1.17)"><text x="0" y="0" font-size="8.3" text-anchor="end" fill="#111">SCD</text></g>
<g transform="translate(397.65,436.1) rotate(-45) scale(1 1.17)"><text x="0" y="0" font-size="8.3" text-anchor="end" fill="#111">SCD + anti-P-selectin</text><text x="-39.78" y="9.4" font-size="8.3" text-anchor="middle" fill="#111">mAb</text></g>
<g transform="translate(442.75,436.1) rotate(-45) scale(1 1.17)"><text x="0" y="0" font-size="8.3" text-anchor="end" fill="#111">Non-SCD</text></g>
<g transform="translate(469.95,436.1) rotate(-45) scale(1 1.17)"><text x="0" y="0" font-size="8.3" text-anchor="end" fill="#111">SCD</text></g>
<g transform="translate(496.85,436.1) rotate(-45) scale(1 1.17)"><text x="0" y="0" font-size="8.3" text-anchor="end" fill="#111">SCD + anti-P-selectin</text><text x="-39.78" y="9.4" font-size="8.3" text-anchor="middle" fill="#111">mAb</text></g>
<g transform="translate(285.4,362.6) rotate(-90) scale(0.69,1)"><text class="Y" x="0" y="0" font-size="10.2" text-anchor="middle" fill="#111" font-weight="bold">MFI</text></g>
<line x1="244.8" y1="110.3" x2="258" y2="110.3" stroke="#000" stroke-width="2.3"/>
<path d="M266.6 110.3 L255.2 105.7 L257.6 110.3 L255.2 114.89999999999999 Z" fill="#000"/>
<line x1="244.8" y1="362.5" x2="258" y2="362.5" stroke="#000" stroke-width="2.3"/>
<path d="M266.6 362.5 L255.2 357.9 L257.6 362.5 L255.2 367.1 Z" fill="#000"/>
</svg>
</body></html>
